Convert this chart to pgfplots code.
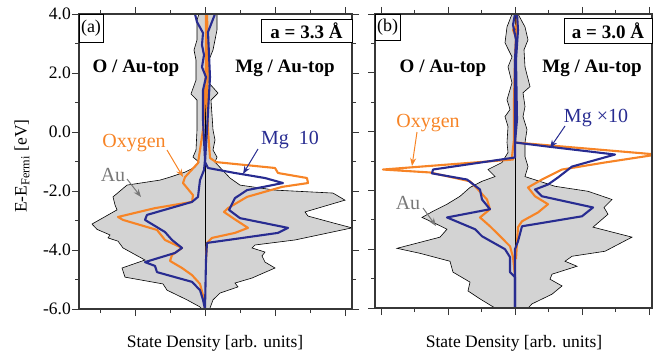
\documentclass[border=0pt]{standalone}
\usepackage{fontspec}
\setmainfont{Liberation Serif}
\usepackage{pgfplots}
\pgfplotsset{compat=1.18}
\usetikzlibrary{arrows.meta}
\definecolor{orng}{RGB}{247,132,38}
\definecolor{navy}{RGB}{40,44,145}
\definecolor{aufill}{RGB}{211,211,211}
\definecolor{axgray}{RGB}{55,55,55}
\definecolor{augray}{RGB}{120,120,120}
\pgfplotsset{dos/.style={
  scale only axis, anchor=south west,
  ymin=-6, ymax=4,
  ytick={-6,-4,-2,0,2,4}, minor ytick={-5,-3,-1,1,3},
  axis line style={axgray, line width=1.8pt},
  every tick/.style={axgray, line width=0.9pt},
  tick align=outside,
  major tick length=7pt, minor tick length=4pt,
  xticklabels={},
  yticklabel style={font=\fontsize{17.5}{20}\selectfont, inner sep=1pt},
  axis on top,
}}
\tikzset{aufill/.style={fill=aufill, draw=black, line width=0.6pt},
  oline/.style={orng, line width=2.1pt, line join=round},
  bline/.style={navy, line width=2.1pt, line join=round},
  cline/.style={black, line width=0.6pt},
  arr/.style={line width=1pt, -{Stealth[length=8pt,width=6pt]}}}
\begin{document}
\begin{tikzpicture}
\useasboundingbox (0,0) rectangle (653pt,-359pt);
% ---------------- panel (a) ----------------
\begin{axis}[dos, at={(79pt,-309pt)}, width=273pt, height=295pt,
  xmin=-126, xmax=147, xtick={-70,0,70,140}, minor xtick={-105,-35,35,105},
  yticklabels={-6.0,-4.0,-2.0,0.0,2.0,4.0}]
\addplot[aufill] coordinates {
(-6,4.00) (-8,3.80) (-8,3.12) (-11,2.78) (-9,2.44) (-9,1.76) (-14,1.29) (-8,1.08)
(-8,0.07) (-9,-0.61) (-12,-0.85) (-6,-1.02) (-10,-1.19) (-20,-1.36) (-35,-1.53)
(-45,-1.63) (-78,-1.80) (-92,-2.20) (-90,-2.47) (-88,-2.64) (-113,-3.12) (-108,-3.30)
(-95,-3.49) (-97,-3.59) (-87,-3.70) (-82,-3.93) (-60,-4.34) (-83,-4.61) (-80,-4.92)
(-42,-5.15) (-38,-5.36) (-18,-5.69) (-5,-5.93) (-3,-6.00)
(3,-6.00) (5,-5.97) (8,-5.69) (15,-5.46) (33,-5.25) (30,-5.12) (47,-4.95) (70,-4.61)
(60,-4.41) (57,-4.20) (60,-4.07) (47,-3.93) (50,-3.83) (90,-3.66) (147,-3.25)
(128,-3.08) (103,-2.85) (100,-2.71) (140,-2.31) (128,-2.07) (70,-1.97) (35,-1.80)
(25,-1.56) (10,-1.02) (12,-0.85) (8,-0.61) (10,-0.27) (8,0.07) (6,1.08) (13,1.32)
(4,1.66) (4,2.44) (8,2.78) (12,3.46) (12,4.00)};
\addplot[cline] coordinates {(0,-6) (0,4)};
% oxygen, O/Au-top (left)
\addplot[oline] coordinates {
(1,4.00) (1,2.44) (0,1.08) (-2,0.07) (-5,-0.61) (-7,-1.05) (-20,-1.53) (-22,-1.73)
(-12,-2.14) (-13,-2.37) (-50,-2.58) (-87,-2.88) (-82,-2.98) (-48,-3.32) (-40,-3.66)
(-23,-3.93) (-33,-4.17) (-35,-4.37) (-23,-4.61) (-13,-4.85) (-5,-5.15) (-2,-5.53) (0,-6.00)};
% oxygen, Mg/Au-top (right)
\addplot[oline] coordinates {
(2,4.00) (3,2.78) (2,1.08) (3,0.07) (5,-0.88) (11,-1.02) (70,-1.22) (73,-1.39)
(102,-1.56) (103,-1.73) (77,-1.86) (42,-2.20) (23,-2.58) (19,-2.71) (28,-2.92)
(43,-3.25) (30,-3.42) (7,-3.59) (2,-3.76) (1,-4.34)};
% Mg x10, O/Au-top (left)
\addplot[bline] coordinates {
(-10,4.00) (-8,3.73) (-2,3.36) (-3,2.95) (-1,2.61) (-3,2.20) (1,1.86) (-2,1.42)
(-2,0.41) (0,-0.95) (-1,-1.29) (-5,-1.63) (-7,-2.20) (-13,-2.37) (-58,-2.81)
(-60,-2.98) (-40,-3.39) (-33,-3.66) (-23,-3.93) (-30,-4.10) (-60,-4.41) (-50,-4.54)
(-48,-4.75) (-13,-5.08) (-5,-5.36) (-2,-5.69) (0,-6.00)};
% Mg x10, Mg/Au-top (right)
\addplot[bline] coordinates {
(10,4.00) (3,3.39) (5,1.86) (2,0.07) (0,-1.02) (3,-1.22) (30,-1.39) (60,-1.56)
(78,-1.73) (63,-1.83) (42,-1.97) (30,-2.24) (24,-2.64) (35,-2.92) (83,-3.25)
(73,-3.42) (23,-3.66) (2,-3.76) (1,-4.34) (0,-6.00)};
\end{axis}
% ---------------- panel (b) ----------------
\begin{axis}[dos, at={(375pt,-308pt)}, width=277pt, height=294pt,
  xmin=-140, xmax=137, xtick={-134,-67,0,67,134}, minor xtick={-100.5,-33.5,33.5,100.5},
  yticklabels={}]
\addplot[aufill] coordinates {
(-3,4.00) (-8,3.56) (-10,3.02) (-3,2.54) (-7,2.20) (-3,1.66) (-8,1.08) (-5,0.75)
(-10,0.51) (-7,0.17) (-8,-0.37) (-7,-0.71) (-13,-1.05) (-27,-1.29) (-20,-1.53)
(-33,-1.69) (-45,-1.90) (-55,-2.20) (-68,-2.47) (-82,-2.71) (-93,-2.92) (-80,-3.12)
(-68,-3.32) (-75,-3.59) (-118,-3.97) (-95,-4.14) (-65,-4.41) (-62,-4.78) (-45,-5.12)
(-47,-5.42) (-35,-5.69) (-20,-6.00)
(13,-6.00) (17,-5.86) (37,-5.53) (47,-5.25) (35,-5.02) (37,-4.85) (62,-4.58)
(50,-4.41) (57,-4.24) (90,-4.07) (117,-3.59) (78,-3.25) (93,-2.81) (89,-2.58)
(97,-2.31) (73,-2.03) (40,-1.86) (10,-1.53) (13,-1.19) (10,-0.85) (10,-0.37)
(12,0.07) (8,0.51) (10,0.85) (8,1.32) (15,1.53) (10,2.20) (9,2.78) (13,3.12)
(10,3.56) (3,4.00)};
\addplot[cline] coordinates {(0,-6) (0,4)};
% oxygen, O/Au-top (left)
\addplot[oline] coordinates {
(2,4.00) (2,3.63) (-2,3.46) (2,3.12) (0,2.44) (-1,1.08) (-1,-0.27) (-3,-0.85)
(-2,-0.95) (-132,-1.29) (-85,-1.39) (-45,-1.69) (-37,-1.97) (-28,-2.31) (-25,-2.64)
(-35,-2.92) (-25,-3.22) (-17,-3.49) (-5,-3.90) (-2,-4.27) (0,-4.92)};
% oxygen, Mg/Au-top (right)
\addplot[oline] coordinates {
(2,4.00) (0,2.44) (1,1.08) (0,-0.37) (142,-0.78) (90,-1.05) (47,-1.29) (27,-1.63)
(13,-1.90) (20,-2.20) (33,-2.47) (23,-2.75) (7,-3.05) (3,-3.25) (2,-3.76) (1,-4.34)};
% Mg x10, O/Au-top (left)
\addplot[bline] coordinates {
(0,4.00) (-2,3.63) (1,3.12) (0,2.44) (0,-0.27) (0,-0.88) (-82,-1.29) (-83,-1.42)
(-48,-1.63) (-35,-1.97) (-33,-2.31) (-25,-2.64) (-68,-2.92) (-40,-3.32) (-33,-3.56)
(-10,-4.00) (-5,-4.27) (-5,-4.78) (0,-4.95) (0,-6.00)};
% Mg x10, Mg/Au-top (right)
\addplot[bline] coordinates {
(2,4.00) (3,3.46) (1,2.44) (2,0.41) (0,-0.37) (33,-0.51) (100,-0.78) (57,-1.19)
(43,-1.56) (33,-1.80) (20,-1.97) (27,-2.20) (78,-2.58) (67,-2.88) (7,-3.22)
(3,-3.73) (0,-4.00) (0,-6.00)};
\end{axis}
% ---------------- annotations ----------------
\def\bfs{\fontsize{19}{22}\selectfont\bfseries}
\def\lfs{\fontsize{20}{24}\selectfont}
\def\xfs{\fontsize{17.5}{21}\selectfont}
% panel (a)
\draw[black, line width=0.8pt, fill=white] (79pt,-14pt) rectangle (103pt,-42pt);
\node[font=\fontsize{18}{20}\selectfont] at (91pt,-28pt) {(a)};
\draw[black, line width=0.8pt, fill=white] (261pt,-19pt) rectangle (352pt,-42pt);
\node[font=\bfs] at (306.5pt,-30.5pt) {a = 3.3 Å};
\node[font=\bfs] at (136pt,-68pt) {O / Au-top};
\node[font=\bfs] at (285pt,-68pt) {Mg / Au-top};
\node[font=\lfs, text=orng] at (134pt,-143pt) {Oxygen};
\node[font=\lfs, text=navy] at (290pt,-140pt) {Mg\hspace{0.5em}10};
\node[font=\lfs, text=augray] at (113pt,-175pt) {Au};
\draw[arr, orng] (167pt,-150pt) -- (183pt,-177pt);
\draw[arr, navy] (258pt,-149pt) -- (243pt,-174pt);
\draw[arr, augray] (127pt,-179pt) -- (141pt,-197pt);
% panel (b)
\draw[black, line width=0.8pt, fill=white] (375pt,-14pt) rectangle (400pt,-40pt);
\node[font=\fontsize{18}{20}\selectfont] at (387.5pt,-27pt) {(b)};
\draw[black, line width=0.8pt, fill=white] (564pt,-18pt) rectangle (652pt,-43pt);
\node[font=\bfs] at (608pt,-30.5pt) {a = 3.0 Å};
\node[font=\bfs] at (443pt,-68pt) {O / Au-top};
\node[font=\bfs] at (592pt,-68pt) {Mg / Au-top};
\node[font=\lfs, text=orng] at (428pt,-123pt) {Oxygen};
\node[font=\lfs, text=navy] at (596pt,-118pt) {Mg ×10};
\node[font=\lfs, text=augray] at (408pt,-203pt) {Au};
\draw[arr, orng] (417pt,-132pt) -- (412pt,-166pt);
\draw[arr, navy] (565pt,-126pt) -- (550pt,-148pt);
\draw[arr, augray] (423pt,-208pt) -- (436pt,-226pt);
% axis labels
\node[font=\xfs] at (215pt,-343pt) {State Density [arb. units]};
\node[font=\xfs] at (514pt,-343pt) {State Density [arb. units]};
\node[font=\xfs, rotate=90] at (22pt,-166pt) {E-E\textsubscript{Fermi} [eV]};
\end{tikzpicture}
\end{document}
